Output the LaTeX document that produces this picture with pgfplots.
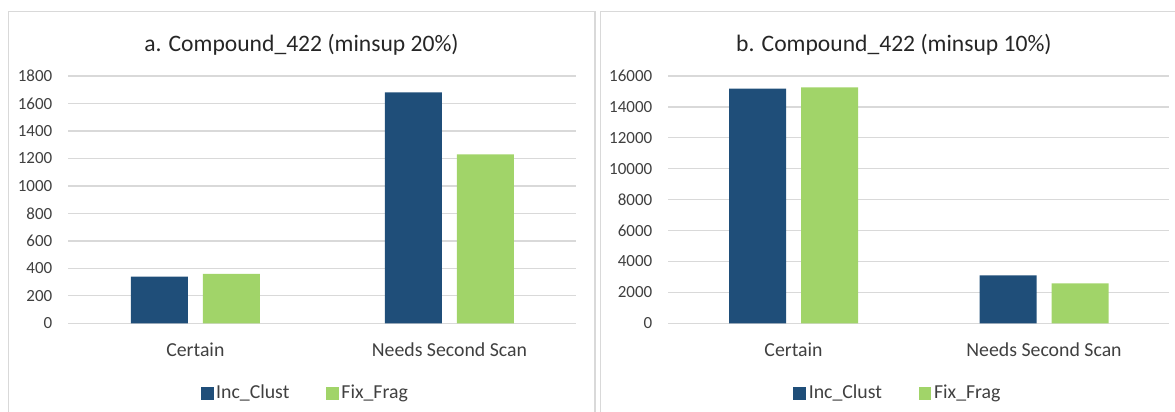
\documentclass[border=0pt]{standalone}
\usepackage{pgfplots}
\pgfplotsset{compat=1.18}
\usepackage{fontspec}
\setmainfont{Carlito}
\definecolor{incblue}{HTML}{1F4E79}
\definecolor{fixgreen}{HTML}{A1D469}
\definecolor{gridgray}{HTML}{D9D9D9}
\definecolor{txtgray}{HTML}{404040}
\pgfplotsset{
  panel/.style={
    scale only axis,
    height=123.65pt,
    ybar=7.5pt,
    bar width=28.5pt,
    xmin=-0.5, xmax=1.5,
    ymin=0,
    xtick={0,1},
    xticklabels={Certain, Needs Second Scan},
    axis line style={draw=none},
    major tick length=0pt,
    ymajorgrids,
    grid style={gridgray, line width=0.65pt},
    scaled y ticks=false,
    /pgf/number format/assume math mode=true,
    /pgf/number format/1000 sep={},
    yticklabel style={font=\fontsize{8.5}{10}\selectfont, text=txtgray, anchor=east, inner sep=0pt, xshift=-7.8pt},
    xticklabel style={font=\fontsize{9.9}{12}\selectfont, text=txtgray, anchor=base, inner sep=0pt, yshift=-16.85pt},
    title style={font=\fontsize{11.8}{14}\selectfont, text=black!85, anchor=base, inner sep=0pt, yshift=0pt},
    legend columns=2,
    legend image code/.code={\draw[#1, draw=none] (0pt,-3.2pt) rectangle (6.4pt,3.2pt);},
    legend style={draw=none, fill=none, inner sep=0pt, anchor=center,
      font=\fontsize{9.9}{12}\selectfont, text=txtgray,
      nodes={inner sep=1.3pt},
      /tikz/every even column/.append style={column sep=17pt}},
    clip=false,
  }
}
\begin{document}
\begin{tikzpicture}
\useasboundingbox (0,0) rectangle (587.5pt,206pt);
% panel borders
\draw[gridgray, line width=0.6pt] (4.15pt,0pt) -- (4.15pt,200.15pt) -- (297.5pt,200.15pt) -- (297.5pt,0pt);
\draw[gridgray, line width=0.6pt] (300.35pt,0pt) -- (300.35pt,200.15pt) -- (590pt,200.15pt);

\begin{axis}[panel,
  at={(34.15pt,44.35pt)}, anchor=south west,
  width=254.1pt,
  ymax=1800, ytick={0,200,...,1800},
  title={a. Compound\_422 (minsup 20\%)},
  title style={at={(axis description cs:0.4589,1.05)}},
  legend style={at={(axis description cs:0.467,-0.283)}},
]
\addplot[fill=incblue, draw=none] coordinates {(0,340) (1,1680)};
\addplot[fill=fixgreen, draw=none] coordinates {(0,360) (1,1230)};
\legend{Inc\_Clust, Fix\_Frag}
\end{axis}

\begin{axis}[panel,
  at={(334.15pt,44.35pt)}, anchor=south west,
  width=250.5pt,
  ymax=16000, ytick={0,2000,...,16000},
  title={b. Compound\_422 (minsup 10\%)},
  title style={at={(axis description cs:0.4505,1.05)}},
  legend style={at={(axis description cs:0.459,-0.283)}},
]
\addplot[fill=incblue, draw=none] coordinates {(0,15180) (1,3100)};
\addplot[fill=fixgreen, draw=none] coordinates {(0,15270) (1,2590)};
\legend{Inc\_Clust, Fix\_Frag}
\end{axis}
\end{tikzpicture}
\end{document}
